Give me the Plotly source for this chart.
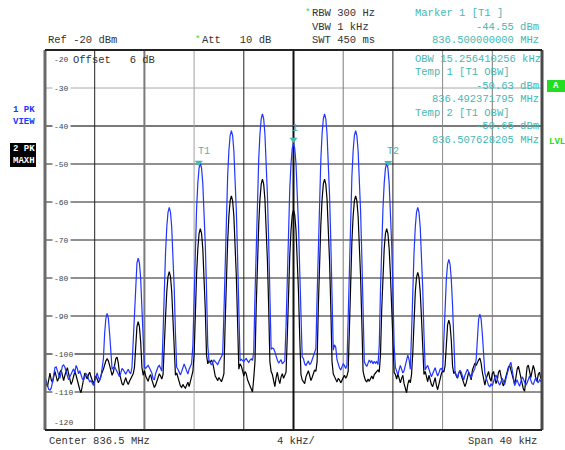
import numpy as np
import plotly.graph_objects as go

# ---------------- data ----------------
# sweep points: 401 points, 0.1 kHz apart, offset from 836.5 MHz (kHz)
freq_khz = np.round(np.linspace(-20.0, 20.0, 401), 3)

# Trace 1 (PK VIEW, blue), dBm, rows of 2.5 kHz (25 points each)
blue_rows = [
    [-107.3, -107.0, -108.2, -109.3, -109.5, -109.0, -107.5, -105.8, -103.6, -103.4, -104.8, -105.5, -106.4, -105.0, -103.2, -102.9, -103.5, -104.6, -106.0, -106.8, -106.0, -105.2, -104.5, -103.9, -105.0],
    [-103.0, -103.8, -105.2, -104.4, -105.8, -106.5, -106.9, -106.0, -105.2, -105.6, -106.8, -107.4, -107.0, -107.8, -108.3, -107.2, -105.8, -105.0, -106.2, -107.0, -106.0, -104.2, -101.3, -94.6, -90.6],
    [-89.3, -90.6, -94.6, -101.0, -104.0, -103.6, -103.3, -104.0, -104.8, -105.3, -106.0, -105.0, -103.8, -104.2, -104.9, -105.3, -104.6, -104.0, -104.8, -105.2, -103.5, -96.1, -86.8, -80.1, -76.1],
    [-74.8, -76.1, -80.1, -86.8, -96.1, -103.5, -103.8, -103.2, -103.0, -103.6, -104.2, -105.0, -106.5, -106.8, -105.2, -104.0, -103.4, -103.0, -103.8, -104.5, -94.7, -82.7, -73.4, -66.7, -62.7],
    [-61.4, -62.7, -66.7, -73.4, -82.7, -94.7, -103.5, -104.0, -104.8, -105.5, -104.6, -103.2, -102.6, -103.5, -104.8, -105.3, -104.0, -103.0, -102.5, -97.8, -83.1, -71.1, -61.8, -55.1, -51.1],
    [-49.8, -51.1, -55.1, -61.8, -71.1, -83.1, -97.8, -101.8, -102.4, -102.9, -102.2, -101.6, -102.0, -102.6, -102.8, -102.0, -101.2, -100.8, -100.0, -89.2, -74.5, -62.5, -53.2, -46.5, -42.5],
    [-41.2, -42.5, -46.5, -53.2, -62.5, -74.5, -89.2, -101.8, -101.4, -101.6, -102.0, -101.5, -101.2, -101.8, -102.2, -101.6, -101.3, -101.7, -99.5, -84.8, -70.1, -58.1, -48.8, -42.1, -38.1],
    [-36.8, -38.1, -42.1, -48.8, -58.1, -70.1, -84.8, -98.8, -98.4, -98.6, -99.4, -100.8, -101.6, -102.4, -102.0, -101.5, -102.6, -102.0, -101.8, -92.6, -77.9, -65.9, -56.6, -49.9, -45.9],
    [-44.55, -45.9, -49.9, -56.6, -65.9, -77.9, -92.6, -100.8, -101.2, -102.6, -103.0, -102.2, -101.8, -102.8, -102.4, -101.5, -100.6, -99.2, -98.6, -84.8, -70.1, -58.1, -48.8, -42.1, -38.1],
    [-36.8, -38.1, -42.1, -48.8, -58.1, -70.1, -84.8, -99.0, -97.6, -98.2, -101.5, -102.8, -103.6, -104.2, -103.4, -102.6, -103.0, -103.8, -103.0, -89.2, -74.5, -62.5, -53.2, -46.5, -42.5],
    [-41.2, -42.5, -46.5, -53.2, -62.5, -74.5, -89.2, -102.0, -102.8, -103.3, -102.4, -101.6, -102.2, -101.8, -102.6, -101.9, -102.4, -102.0, -102.8, -97.8, -83.1, -71.1, -61.8, -55.1, -51.1],
    [-49.8, -51.1, -55.1, -61.8, -71.1, -83.1, -97.8, -103.5, -104.6, -105.5, -104.2, -103.0, -104.0, -105.0, -104.4, -103.2, -101.8, -100.3, -101.5, -104.0, -94.7, -82.7, -73.4, -66.7, -62.7],
    [-61.4, -62.7, -66.7, -73.4, -82.7, -94.7, -104.2, -103.5, -103.0, -104.0, -105.4, -106.0, -105.2, -104.3, -103.6, -104.8, -105.8, -105.0, -104.0, -103.8, -104.5, -96.4, -87.1, -80.4, -76.4],
    [-75.1, -76.4, -80.4, -87.1, -96.4, -104.8, -105.5, -106.2, -105.0, -104.3, -104.8, -106.0, -106.8, -105.6, -104.6, -104.0, -104.8, -105.6, -106.3, -105.2, -104.5, -103.8, -101.5, -94.8, -90.8],
    [-89.5, -90.8, -94.8, -101.5, -105.0, -106.2, -107.4, -108.3, -108.6, -107.8, -108.4, -107.0, -106.2, -105.5, -106.8, -107.6, -108.2, -107.5, -106.4, -107.2, -108.0, -106.5, -105.2, -104.0, -102.8],
    [-102.2, -104.5, -107.0, -108.3, -107.5, -106.8, -107.8, -108.5, -107.2, -106.0, -106.6, -107.5, -108.2, -107.6, -106.4, -105.8, -106.9, -107.8, -108.0, -106.9, -106.2, -107.0, -107.6, -106.8, -107.3],
    [-107.5],
]

# Trace 2 (PK MAXH, black), dBm
black_rows = [
    [-105.5, -107.8, -108.6, -106.2, -105.0, -106.8, -107.5, -106.0, -104.6, -105.8, -107.2, -106.4, -104.8, -104.2, -106.0, -107.0, -105.6, -104.4, -103.6, -105.2, -106.8, -108.0, -107.2, -105.6, -104.6],
    [-105.6, -107.2, -108.4, -109.4, -110.2, -108.6, -106.2, -105.0, -105.8, -106.6, -105.4, -104.8, -106.0, -107.2, -107.8, -106.8, -105.8, -106.6, -107.6, -106.8, -105.6, -104.8, -104.0, -102.8, -101.8],
    [-101.3, -101.8, -103.0, -104.6, -105.6, -104.8, -103.0, -101.2, -100.8, -102.4, -105.2, -106.6, -107.8, -108.2, -107.0, -106.2, -107.4, -108.0, -107.2, -106.4, -105.8, -105.2, -103.5, -96.8, -92.8],
    [-91.5, -92.8, -96.8, -103.5, -105.6, -104.4, -105.8, -106.6, -107.2, -106.0, -105.4, -106.8, -107.8, -108.8, -108.2, -107.0, -106.0, -105.2, -105.8, -106.6, -105.4, -99.6, -90.3, -83.6, -79.6],
    [-78.3, -79.6, -83.6, -90.3, -99.6, -105.6, -105.0, -106.4, -107.6, -108.4, -108.8, -108.0, -108.6, -109.0, -108.2, -107.4, -108.6, -107.0, -105.4, -104.6, -100.3, -88.3, -79.0, -72.3, -68.3],
    [-67.0, -68.3, -72.3, -79.0, -88.3, -100.3, -102.6, -101.8, -102.2, -101.6, -102.4, -104.0, -105.8, -106.4, -107.0, -106.2, -106.8, -107.3, -106.4, -105.2, -91.7, -79.7, -70.4, -63.7, -59.7],
    [-58.4, -59.7, -63.7, -70.4, -79.7, -91.7, -104.0, -102.6, -103.2, -104.4, -105.8, -104.6, -105.2, -106.8, -107.6, -108.4, -109.0, -110.0, -106.4, -102.0, -87.3, -75.3, -66.0, -59.3, -55.3],
    [-54.0, -55.3, -59.3, -66.0, -75.3, -87.3, -102.0, -104.6, -105.4, -107.0, -108.6, -106.2, -104.8, -106.6, -107.8, -106.0, -105.2, -106.4, -105.6, -104.8, -95.4, -83.4, -74.1, -67.4, -63.4],
    [-62.1, -63.4, -67.4, -74.1, -83.4, -95.4, -105.4, -106.8, -107.4, -107.8, -106.0, -105.2, -104.4, -105.6, -107.0, -106.2, -104.8, -104.2, -104.6, -102.0, -87.3, -75.3, -66.0, -59.3, -55.3],
    [-54.0, -55.3, -59.3, -66.0, -75.3, -87.3, -102.0, -105.2, -106.0, -107.0, -107.4, -106.4, -106.8, -107.6, -107.0, -106.2, -105.6, -106.4, -105.8, -104.5, -91.7, -79.7, -70.4, -63.7, -59.7],
    [-58.4, -59.7, -63.7, -70.4, -79.7, -91.7, -104.5, -106.0, -107.0, -107.3, -106.6, -107.2, -106.2, -105.8, -106.6, -105.4, -105.0, -104.6, -104.2, -104.8, -100.3, -88.3, -79.0, -72.3, -68.3],
    [-67.0, -68.3, -72.3, -79.0, -88.3, -100.3, -104.8, -105.4, -106.6, -105.2, -106.8, -107.6, -106.4, -105.6, -107.8, -109.4, -110.2, -108.0, -106.8, -107.6, -105.4, -99.8, -90.5, -83.8, -79.8],
    [-78.5, -79.8, -83.8, -90.5, -99.8, -105.4, -104.6, -106.2, -107.3, -105.6, -107.0, -108.0, -108.6, -107.4, -106.2, -108.2, -109.4, -108.0, -106.4, -105.2, -104.4, -104.8, -103.1, -96.4, -92.4],
    [-91.1, -92.4, -96.4, -103.1, -105.2, -104.6, -105.8, -106.4, -105.0, -104.4, -105.6, -106.6, -107.8, -108.6, -107.6, -106.0, -104.8, -105.6, -106.8, -104.2, -103.2, -102.4, -103.0, -102.0, -101.6],
    [-101.1, -102.4, -104.8, -107.2, -108.2, -106.6, -105.4, -104.6, -106.4, -107.2, -105.2, -104.6, -106.2, -107.8, -106.8, -104.8, -104.2, -106.0, -107.6, -108.4, -107.0, -105.6, -104.4, -103.4, -103.0],
    [-104.2, -105.6, -107.2, -108.0, -106.2, -104.0, -103.2, -104.8, -106.8, -108.2, -109.2, -109.8, -106.0, -103.4, -102.9, -104.8, -106.2, -104.6, -103.0, -104.2, -106.6, -107.2, -105.4, -104.8, -106.4],
    [-106.8],
]

for r in blue_rows[:-1] + black_rows[:-1]:
    assert len(r) == 25, len(r)

trace1_dbm = [v for r in blue_rows for v in r]
trace2_dbm = [v for r in black_rows for v in r]

# markers
marker_khz = [0.0, -7.628, 7.628]
marker_dbm = [-44.55, -50.63, -50.65]
marker_names = ["1", "T1", "T2"]

y_ticks = [-30, -40, -50, -60, -70, -80, -90, -100, -110]
x_grid = [-16, -12, -8, -4, 0, 4, 8, 12, 16]

# ---------------- figure ----------------
W, H = 565, 450
L, R, T, B = 45, 23, 50, 20
PW, PH = W - L - R, H - T - B

def px(x, y):
    return (x - L) / PW, (H - B - y) / PH

MONO = "Liberation Mono, Courier New, monospace"
TEAL = "#45b8b4"
BLUE = "#2035ff"
GREEN = "#22dd22"

fig = go.Figure()
fig.add_trace(go.Scatter(x=freq_khz, y=trace2_dbm, mode="lines",
                         line=dict(color="#000000", width=1.2), hoverinfo="skip"))
fig.add_trace(go.Scatter(x=freq_khz, y=trace1_dbm, mode="lines",
                         line=dict(color=BLUE, width=1.2), hoverinfo="skip"))
fig.add_trace(go.Scatter(x=marker_khz, y=[v + 1.0 for v in marker_dbm], mode="markers",
                         marker=dict(symbol="triangle-down", size=7, color=TEAL),
                         hoverinfo="skip"))

shapes = []
hcol = {-30: ("#a8a8a8", 1), -40: ("#7a7a7a", 2), -100: ("#7a7a7a", 2)}
for yv in y_ticks:
    c, w = hcol.get(yv, ("#222222", 1))
    shapes.append(dict(type="line", xref="x", yref="y", x0=-20, x1=20, y0=yv, y1=yv,
                       line=dict(color=c, width=w), layer="below"))
vcol = {-12: ("#7a7a7a", 2), -8: ("#a0a0a0", 1), 0: ("#111111", 2), 4: ("#7a7a7a", 1),
        12: ("#8a8a8a", 1), 16: ("#7a7a7a", 1)}
for xv in x_grid:
    c, w = vcol.get(xv, ("#222222", 1))
    shapes.append(dict(type="line", xref="x", yref="y", x0=xv, x1=xv, y0=-120, y1=-20,
                       line=dict(color=c, width=w), layer="below"))
# frame
shapes += [
    dict(type="line", xref="paper", yref="paper", x0=0, x1=0, y0=0, y1=1, line=dict(color="#6a6a6a", width=3)),
    dict(type="line", xref="paper", yref="paper", x0=1, x1=1, y0=0, y1=1, line=dict(color="#4a4a4a", width=3)),
    dict(type="line", xref="paper", yref="paper", x0=0, x1=1, y0=1, y1=1, line=dict(color="#222222", width=2)),
    dict(type="line", xref="paper", yref="paper", x0=0, x1=1, y0=0, y1=0, line=dict(color="#222222", width=2)),
]
# side boxes
bx0, by0 = px(10, 143); bx1, by1 = px(36, 167)
shapes.append(dict(type="rect", xref="paper", yref="paper", x0=bx0, x1=bx1, y0=by1, y1=by0,
                   fillcolor="#000000", line=dict(width=0)))
gx0, gy0 = px(547, 80); gx1, gy1 = px(565, 92)
shapes.append(dict(type="rect", xref="paper", yref="paper", x0=gx0, x1=gx1, y0=gy1, y1=gy0,
                   fillcolor=GREEN, line=dict(width=0)))

ann = []
def text(x, y, s, color="#333333", size=10.5, anchor="left", family=MONO, **kw):
    ax, ay = px(x, y)
    ann.append(dict(xref="paper", yref="paper", x=ax, y=ay, text=s, showarrow=False,
                    xanchor=anchor, yanchor="middle", font=dict(family=family, size=size, color=color),
                    **kw))

# header
text(46, 40, "Ref -20 dBm")
text(193, 40, "*", color=GREEN, size=9)
text(200, 40, "Att   10 dB")
text(303, 13, "*", color=GREEN, size=9)
text(310, 13, "RBW 300 Hz")
text(310, 27, "VBW 1 kHz")
text(310, 40, "SWT 450 ms")
text(413, 13, "Marker 1 [T1 ]", color=TEAL)
text(541, 27, "-44.55 dBm", color=TEAL, anchor="right")
text(541, 40, "836.500000000 MHz", color=TEAL, anchor="right")
# marker info inside grid
text(413, 59, "OBW 15.256410256 kHz", color=TEAL)
text(413, 72, "Temp 1 [T1 OBW]", color=TEAL)
text(541, 86, "-50.63 dBm", color=TEAL, anchor="right")
text(541, 99, "836.492371795 MHz", color=TEAL, anchor="right")
text(413, 113, "Temp 2 [T1 OBW]", color=TEAL)
text(541, 126, "-50.65 dBm", color=TEAL, anchor="right")
text(541, 140, "836.507628205 MHz", color=TEAL, anchor="right")
# offset line
text(52, 60, "-20", size=8, color="#444444")
text(71, 60, "Offset   6 dB")
# left panel
text(11, 110, "<b>1 PK</b>", color=BLUE, size=9)
text(11, 122, "<b>VIEW</b>", color=BLUE, size=9)
text(11, 149, "<b>2 PK</b>", color="#ffffff", size=9)
text(11, 161, "<b>MAXH</b>", color="#ffffff", size=9)
# right panel
text(556, 86, "<b>A</b>", color="#ffffff", size=9, anchor="center")
text(547, 142, "<b>LVL</b>", color=GREEN, size=9)
# footer
text(47, 441, "Center 836.5 MHz")
text(275, 441, "4 kHz/")
text(539, 441, "Span 40 kHz", anchor="right")

# y tick labels (inside grid, on the lines)
for yv in y_ticks:
    ann.append(dict(xref="paper", yref="y", x=px(52, 0)[0], y=yv, text=str(yv), showarrow=False,
                    xanchor="left", yanchor="middle", bgcolor="#ffffff", borderpad=1,
                    font=dict(family=MONO, size=8, color="#444444")))
text(52, 422, "-120", size=8, color="#444444")

# marker labels
for mx, my, name in zip(marker_khz, marker_dbm, marker_names):
    ann.append(dict(xref="x", yref="y", x=mx, y=my, text=name, showarrow=False,
                    xanchor="left" if name != "1" else "center", yanchor="bottom",
                    xshift=-3 if name != "1" else 1, yshift=7,
                    font=dict(family=MONO, size=10, color=TEAL)))

fig.update_layout(
    width=W, height=H,
    margin=dict(l=L, r=R, t=T, b=B, pad=0),
    paper_bgcolor="#ffffff", plot_bgcolor="#ffffff",
    showlegend=False,
    xaxis=dict(range=[-20, 20], showgrid=False, zeroline=False, showticklabels=False,
               ticks="", showline=False, fixedrange=True),
    yaxis=dict(range=[-120, -20], showgrid=False, zeroline=False, showticklabels=False,
               ticks="", showline=False, fixedrange=True),
    shapes=shapes, annotations=ann,
)

fig.write_html("out.html", config={"displayModeBar": False},
               post_script="document.body.style.margin='0px';document.body.style.overflow='hidden';")
